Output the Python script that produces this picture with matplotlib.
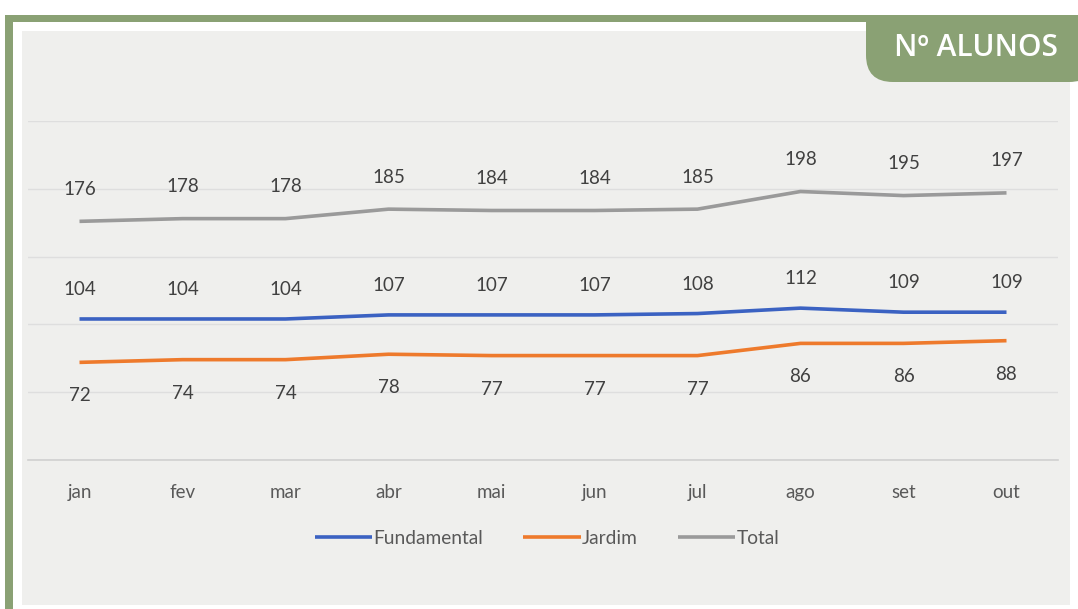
import matplotlib
matplotlib.use("Agg")
import matplotlib.pyplot as plt
from matplotlib.patches import Rectangle, FancyBboxPatch

months = ["jan", "fev", "mar", "abr", "mai", "jun", "jul", "ago", "set", "out"]
fundamental = [104, 104, 104, 107, 107, 107, 108, 112, 109, 109]
jardim = [72, 74, 74, 78, 77, 77, 77, 86, 86, 88]
total = [176, 178, 178, 185, 184, 184, 185, 198, 195, 197]
title = "Nº ALUNOS"

W, H = 1078, 609
fig = plt.figure(figsize=(W / 100, H / 100), dpi=100)
fig.patch.set_facecolor("white")

green = "#8aa174"
panel = "#efefed"

def px(x, y, w, h):
    # convert pixel box (top-left origin) to figure fraction
    return (x / W, 1 - (y + h) / H, w / W, h / H)

# inner gray panel
x0, y0, w0, h0 = px(22, 31, 1048, 574)
fig.patches.append(Rectangle((x0, y0), w0, h0, transform=fig.transFigure,
                             facecolor=panel, edgecolor="none", zorder=-2))
# green frame (top and left bars)
x0, y0, w0, h0 = px(5, 15, 1073, 7)
fig.patches.append(Rectangle((x0, y0), w0, h0, transform=fig.transFigure,
                             facecolor=green, edgecolor="none", zorder=-1))
x0, y0, w0, h0 = px(5, 15, 8, 594)
fig.patches.append(Rectangle((x0, y0), w0, h0, transform=fig.transFigure,
                             facecolor=green, edgecolor="none", zorder=-1))

# axes
ax = fig.add_axes([28 / W, 1 - 460 / H, (1058 - 28) / W, (460 - 121) / H])
ax.set_zorder(1)
ax.patch.set_visible(False)
xs = list(range(len(months)))
ax.set_xlim(-0.5, len(months) - 0.5)
ax.set_ylim(0, 250)
ax.set_yticks([0, 50, 100, 150, 200, 250])
ax.yaxis.grid(True, color="#dedede", linewidth=1.0)
ax.set_axisbelow(True)
ax.tick_params(axis="y", left=False, labelleft=False)
ax.tick_params(axis="x", bottom=False, length=0, pad=17, labelsize=13.5,
               labelcolor="#595959")
ax.set_xticks(xs)
ax.set_xticklabels(months, fontfamily="Lato")
for s in ["top", "right", "left"]:
    ax.spines[s].set_visible(False)
ax.spines["bottom"].set_color("#d0d0d0")
ax.spines["bottom"].set_linewidth(1.2)

blue_c = "#3b62c2"
orange_c = "#ee7a2c"
gray_c = "#9a9a9a"
lf, = ax.plot(xs, fundamental, color=blue_c, lw=2.6, solid_joinstyle="round",
              solid_capstyle="butt", label="Fundamental")
lj, = ax.plot(xs, jardim, color=orange_c, lw=2.6, solid_joinstyle="round",
              solid_capstyle="butt", label="Jardim")
lt, = ax.plot(xs, total, color=gray_c, lw=2.6, solid_joinstyle="round",
              solid_capstyle="butt", label="Total")

lab_kw = dict(ha="center", fontsize=13.5, color="#404040", fontfamily="Lato")
for x, v in zip(xs, total):
    ax.annotate(str(v), (x, v), xytext=(0, 17), textcoords="offset points",
                va="bottom", **lab_kw)
for x, v in zip(xs, fundamental):
    ax.annotate(str(v), (x, v), xytext=(0, 15), textcoords="offset points",
                va="bottom", **lab_kw)
for x, v in zip(xs, jardim):
    ax.annotate(str(v), (x, v), xytext=(0, -18), textcoords="offset points",
                va="top", **lab_kw)

leg = fig.legend(handles=[lf, lj, lt], loc="center", bbox_to_anchor=(547 / W, 1 - 538 / H),
                 ncol=3, frameon=False, handlelength=3.0, handletextpad=0.05,
                 columnspacing=2.1, prop=dict(family="Lato", size=13.8))
for t in leg.get_texts():
    t.set_color("#595959")

# title tag with rounded bottom-left corner
x0, y0, w0, h0 = px(866, 15, 230, 67)
tag = FancyBboxPatch((x0, y0), w0, h0, transform=fig.transFigure,
                     boxstyle="round,pad=0,rounding_size=0.025",
                     facecolor=green, edgecolor="none", zorder=2,
                     mutation_aspect=W / H)
fig.patches.append(tag)
x0, y0, w0, h0 = px(866, 15, 230, 30)
fig.patches.append(Rectangle((x0, y0), w0, h0, transform=fig.transFigure,
                             facecolor=green, edgecolor="none", zorder=2))
fig.text(976 / W, 1 - 48 / H, title, ha="center", va="center", color="white",
         fontsize=21.5, fontfamily="Open Sans", fontweight="semibold", zorder=3)

fig.savefig("out.png", dpi=100, facecolor="white")
